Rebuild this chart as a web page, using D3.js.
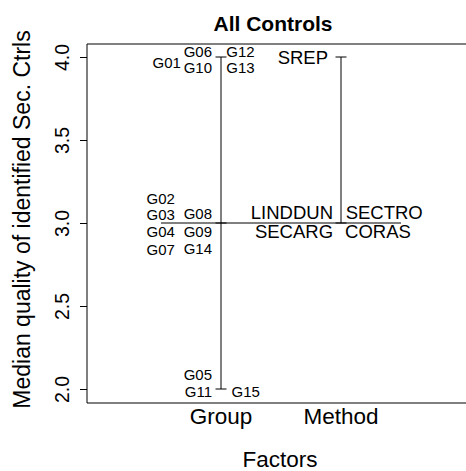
<!DOCTYPE html>
<html>
<head>
<meta charset="utf-8">
<script src="https://cdn.jsdelivr.net/npm/d3@7"></script>
<style>
  html, body { margin: 0; padding: 0; background: #fff; }
  svg { display: block; font-family: "Liberation Sans", Arial, Helvetica, sans-serif; }
</style>
</head>
<body>
<div id="chart"></div>
<script>
// ---- data ----
const factors = ["Group", "Method"];
const groupLevels = ["G01","G02","G03","G04","G05","G06","G07","G08","G09","G10","G11","G12","G13","G14","G15"];
const groupMedians = [4, 3, 3, 3, 2, 4, 3, 3, 3, 4, 2, 4, 4, 3, 2];
const methodLevels = ["CORAS","LINDDUN","SECARG","SECTRO","SREP"];
const methodMedians = [3, 3, 3, 3, 4];
const grandMedian = 3;
const yTicks = [2.0, 2.5, 3.0, 3.5, 4.0];
const titleText = "All Controls";
const xTitle = "Factors";
const yTitle = "Median quality of identified Sec. Ctrls";

// ---- label layout (dx in em, sign = side; dy in line units) ----
const groupLabelLayout = {
  G01: [-2.67, 0.36], G06: [-0.6, -0.3], G10: [-0.6, 0.67], G12: [0.35, -0.3], G13: [0.35, 0.67],
  G02: [-3.07, -1.45], G03: [-3.07, -0.5], G04: [-3.07, 0.55], G07: [-3.07, 1.6],
  G08: [-0.6, -0.55], G09: [-0.6, 0.55], G14: [-0.6, 1.55],
  G05: [-0.6, -0.85], G11: [-0.6, 0.18], G15: [0.7, 0.18]
};
const methodLabelLayout = {
  SREP: [-0.7, 0.05], LINDDUN: [-0.43, -0.53], SECARG: [-0.43, 0.47],
  SECTRO: [0.25, -0.53], CORAS: [0.22, 0.47]
};

const W = 466, H = 471;
const plot = { left: 87, right: 473, top: 44, bottom: 403 };

const svg = d3.select("#chart").append("svg").attr("width", W).attr("height", H);

const y = d3.scaleLinear().domain([2, 4]).range([389, 57]);
const x = d3.scaleLinear().domain([1, 2]).range([221, 341]);

const factorData = [
  { name: factors[0], levels: groupLevels, values: groupMedians, layout: groupLabelLayout, fs: 15, lh: 16.5 },
  { name: factors[1], levels: methodLevels, values: methodMedians, layout: methodLabelLayout, fs: 18.5, lh: 19 }
];

// box (left, top, bottom)
svg.append("path")
  .attr("d", `M${plot.right},${plot.top}H${plot.left}V${plot.bottom}H${plot.right}`)
  .attr("fill", "none").attr("stroke", "#000").attr("stroke-width", 1);

// y axis
const yAxis = d3.axisLeft(y).tickValues(yTicks).tickFormat(d3.format(".1f")).tickSize(7).tickPadding(0);
const ya = svg.append("g").attr("transform", `translate(${plot.left},0)`).call(yAxis);
ya.select(".domain").remove();
ya.selectAll(".tick line").attr("stroke", "#000");
ya.selectAll(".tick text")
  .attr("transform", "rotate(-90)")
  .attr("x", 0).attr("y", -18).attr("dy", 0)
  .attr("text-anchor", "middle")
  .attr("font-size", 19.5).attr("fill", "#000");

// grand median line
svg.append("line")
  .attr("x1", x(0.5)).attr("x2", x(2.5))
  .attr("y1", y(grandMedian)).attr("y2", y(grandMedian))
  .attr("stroke", "#000");

factorData.forEach((f, j) => {
  const xc = x(j + 1);
  const ext = d3.extent(f.values);
  const g = svg.append("g");
  g.append("line").attr("x1", xc).attr("x2", xc)
    .attr("y1", y(ext[0])).attr("y2", y(ext[1])).attr("stroke", "#000");
  const uniq = Array.from(new Set(f.values));
  g.selectAll("line.tk").data(uniq).join("line").attr("class", "tk")
    .attr("x1", xc - 5.5).attr("x2", xc + 5.5)
    .attr("y1", d => y(d)).attr("y2", d => y(d)).attr("stroke", "#000");
  g.selectAll("text").data(f.levels.map((l, i) => ({ l, v: f.values[i] }))).join("text")
    .attr("x", d => xc + f.layout[d.l][0] * f.fs)
    .attr("y", d => y(d.v) + f.layout[d.l][1] * f.lh)
    .attr("dy", "0.35em")
    .attr("text-anchor", d => f.layout[d.l][0] < 0 ? "end" : "start")
    .attr("font-size", f.fs).attr("fill", "#000")
    .text(d => d.l);
  // factor name
  svg.append("text").attr("x", xc).attr("y", 424)
    .attr("text-anchor", "middle").attr("font-size", 22.5).attr("fill", "#000")
    .text(f.name);
});

// titles
svg.append("text").attr("x", 273).attr("y", 31).attr("text-anchor", "middle")
  .attr("font-size", 21).attr("font-weight", "bold").attr("fill", "#000").text(titleText);
svg.append("text").attr("x", 280).attr("y", 467).attr("text-anchor", "middle")
  .attr("font-size", 22.5).attr("fill", "#000").text(xTitle);
svg.append("text").attr("transform", `translate(30,${(plot.top + plot.bottom) / 2 - 4}) rotate(-90)`)
  .attr("text-anchor", "middle").attr("font-size", 23).attr("fill", "#000").text(yTitle);
</script>
</body>
</html>
